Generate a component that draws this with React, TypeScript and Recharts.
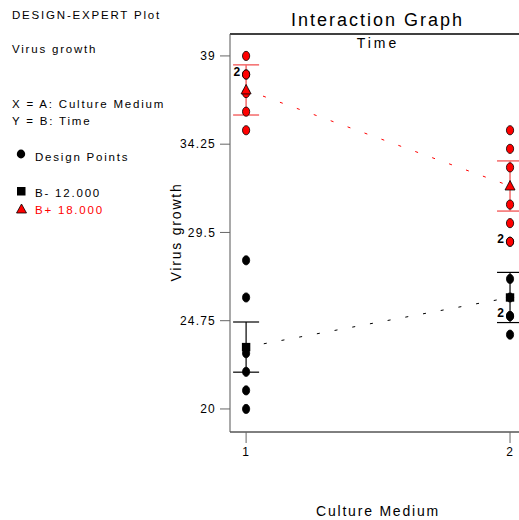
import {
  ComposedChart,
  Scatter,
  Line,
  XAxis,
  YAxis,
  ReferenceLine,
  ErrorBar,
} from "recharts";

// Culture medium levels (x) and replicate virus growth at each time level
const mediumLevels = [1, 2];
const time12Growth = [
  [21, 22, 23, 28, 20, 26],
  [25, 26, 24, 25, 29, 27],
];
const time18Growth = [
  [37, 38, 39, 38, 35, 36],
  [31, 34, 29, 33, 30, 35],
];
const time12Means = [23.33, 26.0];
const time18Means = [37.17, 32.0];
const lsdHalfWidth = [1.35, 1.35];

const yTicks = [20, 24.75, 29.5, 34.25, 39];
const yDomain = [18.76, 40.18];
const xDomain = [0.939, 2.034];

const FONT = "'Liberation Sans', Arial, sans-serif";
const RED = "#ff0000";

const toPoints = (groups: number[][]) =>
  groups.flatMap((vals, i) => vals.map((y) => ({ x: mediumLevels[i], y })));

const lowPoints = toPoints(time12Growth);
const highPoints = toPoints(time18Growth);

// points sharing the same spot get a "2" marker
const counts = new Map<string, { x: number; y: number; n: number }>();
[...lowPoints, ...highPoints].forEach((p) => {
  const k = `${p.x}-${p.y}`;
  const c = counts.get(k);
  if (c) c.n += 1;
  else counts.set(k, { ...p, n: 1 });
});
const dupLabels = [...counts.values()].filter((c) => c.n > 1);

const lowMeanData = mediumLevels.map((x, i) => ({ x, y: time12Means[i], err: lsdHalfWidth[i] }));
const highMeanData = mediumLevels.map((x, i) => ({ x, y: time18Means[i], err: lsdHalfWidth[i] }));

const dot = (fill: string) => (props: any) => {
  const { cx, cy } = props;
  return <ellipse cx={cx} cy={cy} rx={3.6} ry={4.6} fill={fill} stroke="#000" strokeWidth={0.8} />;
};

const square = (props: any) => {
  const { cx, cy } = props;
  return <rect x={cx - 4.2} y={cy - 4.2} width={8.4} height={8.4} fill="#000" />;
};

const triangle = (props: any) => {
  const { cx, cy } = props;
  return (
    <polygon
      points={`${cx},${cy - 5.5} ${cx + 5},${cy + 4} ${cx - 5},${cy + 4}`}
      fill={RED}
      stroke="#000"
      strokeWidth={0.8}
    />
  );
};

const dupText = (props: any) => {
  const { cx, cy } = props;
  return (
    <text x={cx - 6} y={cy + 1} textAnchor="end" fontFamily={FONT} fontSize={12} fontWeight="bold" fill="#000">
      2
    </text>
  );
};

export default function App() {
  const textStyle = { fontFamily: FONT, fontSize: 11.5, letterSpacing: 1.8 };
  return (
    <div style={{ position: "absolute", left: 0, top: 0, width: 519, height: 520, background: "#fff" }}>
      <ComposedChart width={519} height={520} margin={{ top: 34, right: 0, bottom: 0, left: 0 }}>
        <XAxis
          dataKey="x"
          type="number"
          domain={xDomain}
          ticks={mediumLevels}
          allowDataOverflow
          height={88}
          tickSize={11}
          tickMargin={4}
          stroke="#000"
          tickLine={{ stroke: "#666" }}
          tick={{ fill: "#000", fontFamily: FONT, fontSize: 12, letterSpacing: 1 }}
        />
        <YAxis
          dataKey="y"
          type="number"
          domain={yDomain}
          ticks={yTicks}
          allowDataOverflow
          width={230}
          tickSize={10}
          tickMargin={4}
          stroke="#555"
          tickLine={{ stroke: "#666" }}
          tick={{ fill: "#000", fontFamily: FONT, fontSize: 12, letterSpacing: 1.2 }}
        />
        <ReferenceLine y={yDomain[1]} stroke="#000" strokeWidth={1.5} />

        <Line
          data={lowMeanData}
          dataKey="y"
          stroke="#000"
          strokeDasharray="3 15"
          dot={false}
          isAnimationActive={false}
        />
        <Line
          data={highMeanData}
          dataKey="y"
          stroke={RED}
          strokeDasharray="3 15"
          dot={false}
          isAnimationActive={false}
        />

        <Scatter data={lowPoints} dataKey="y" shape={dot("#000")} isAnimationActive={false} />
        <Scatter data={highPoints} dataKey="y" shape={dot(RED)} isAnimationActive={false} />

        <Scatter data={lowMeanData} dataKey="y" shape={square} isAnimationActive={false}>
          <ErrorBar dataKey="err" direction="y" width={13} stroke="#000" strokeWidth={1.2} />
        </Scatter>
        <Scatter data={highMeanData} dataKey="y" shape={triangle} isAnimationActive={false}>
          <ErrorBar dataKey="err" direction="y" width={13} stroke="#f46a6a" strokeWidth={1.5} />
        </Scatter>

        <Scatter data={dupLabels} dataKey="y" shape={dupText} isAnimationActive={false} />
      </ComposedChart>

      <svg
        width={519}
        height={520}
        style={{ position: "absolute", left: 0, top: 0, pointerEvents: "none" }}
      >
        <text x={12} y={19} {...textStyle}>DESIGN-EXPERT Plot</text>
        <text x={12} y={53} {...textStyle}>Virus growth</text>
        <text x={12} y={108} {...textStyle}>X = A: Culture Medium</text>
        <text x={12} y={125} {...textStyle}>Y = B: Time</text>

        <ellipse cx={21} cy={154} rx={4.2} ry={4.4} fill="#000" />
        <text x={35} y={161} {...textStyle}>Design Points</text>
        <rect x={17} y={187} width={8.5} height={8.5} fill="#000" />
        <text x={35} y={197} {...textStyle}>B- 12.000</text>
        <polygon points="21.5,204 26.5,213 16.5,213" fill={RED} stroke="#000" strokeWidth={0.8} />
        <text x={35} y={214} {...textStyle} fill={RED}>B+ 18.000</text>

        <text x={377.5} y={26} textAnchor="middle" fontFamily={FONT} fontSize={18} letterSpacing={2}>
          Interaction Graph
        </text>
        <text x={378} y={48} textAnchor="middle" fontFamily={FONT} fontSize={14} letterSpacing={3}>
          Time
        </text>
        <text
          x={181}
          y={232}
          textAnchor="middle"
          transform="rotate(-90 181 232)"
          fontFamily={FONT}
          fontSize={14}
          letterSpacing={1.8}
        >
          Virus growth
        </text>
        <text x={378} y={516} textAnchor="middle" fontFamily={FONT} fontSize={14} letterSpacing={1.8}>
          Culture Medium
        </text>
      </svg>
    </div>
  );
}
